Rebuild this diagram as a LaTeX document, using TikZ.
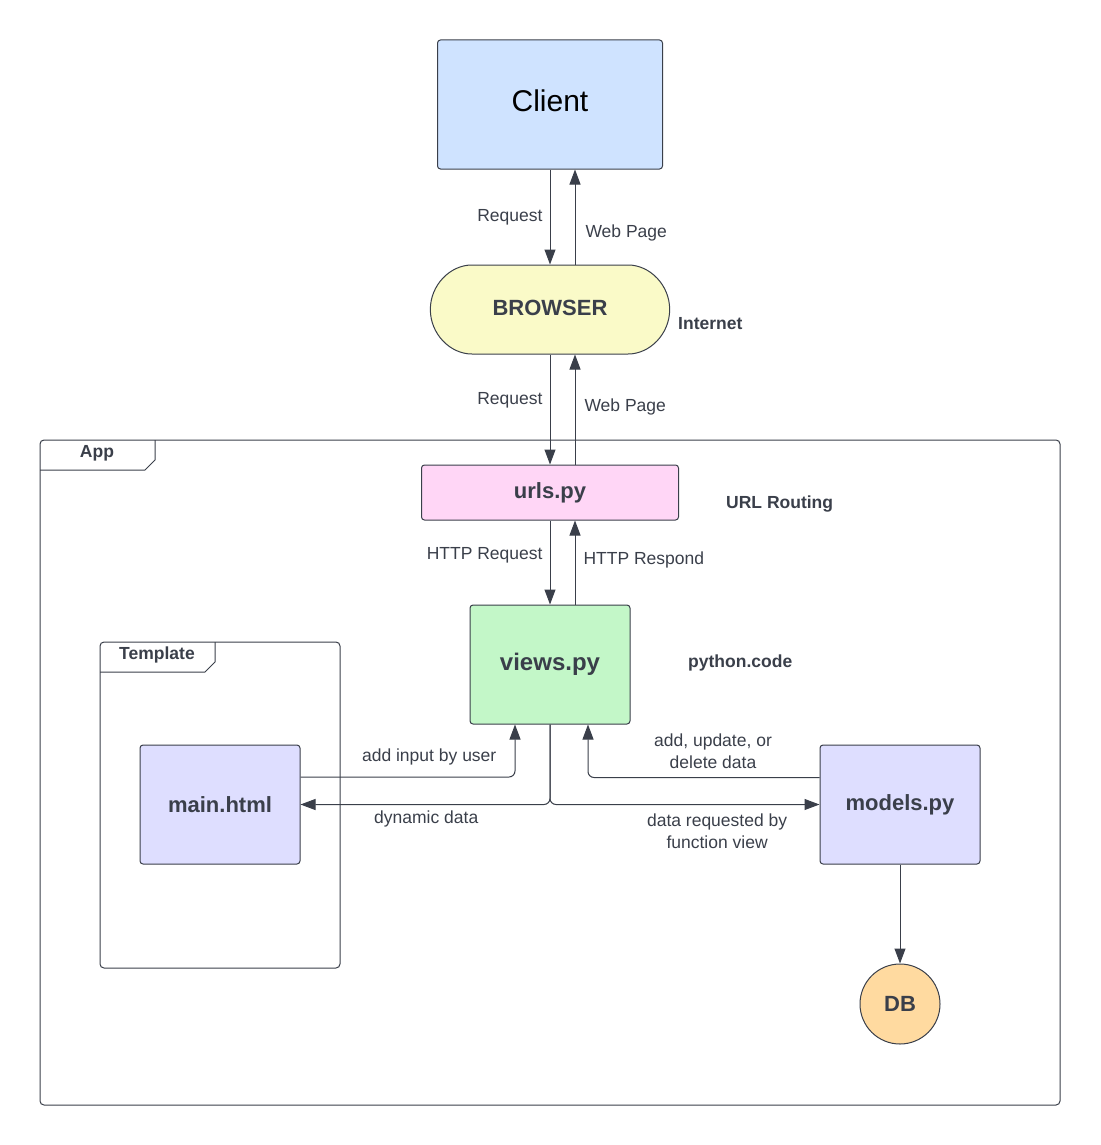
\documentclass[tikz,border=0pt]{standalone}
\usepackage{fontspec}
\setmainfont{Liberation Sans}
\usetikzlibrary{shapes.misc,arrows.meta,calc}

\definecolor{ink}{HTML}{3A3F4A}
\definecolor{clientfill}{HTML}{CFE3FF}
\definecolor{browserfill}{HTML}{FAFAC8}
\definecolor{urlsfill}{HTML}{FFD6F6}
\definecolor{viewsfill}{HTML}{C3F7C8}
\definecolor{modfill}{HTML}{DEDEFF}
\definecolor{dbfill}{HTML}{FFDAA0}

\begin{document}
\begin{tikzpicture}
  [
    x=1pt, y=-1pt,
    block/.style =
      {draw=ink, line width=1pt, rectangle, rounded corners=3pt, align=center,
       text=ink, font=\fontsize{22}{26}\selectfont\bfseries},
    lbl/.style =
      {text=ink, inner sep=0pt, align=center, font=\fontsize{17.5}{22}\selectfont},
    note/.style =
      {text=ink, inner sep=0pt, anchor=west, font=\fontsize{17.5}{22}\selectfont\bfseries},
    arr/.style =
      {draw=ink, line width=1pt, -{Stealth[length=15pt,width=11pt,inset=0pt]}},
    frame/.style =
      {draw=ink, line width=1pt}
  ]
\useasboundingbox (0,0) rectangle (1100,1145);

% frames
\draw[frame, rounded corners=4pt] (40,440) rectangle (1060,1105);
\draw[frame] (40,470) -- (145,470) -- (155,460) -- (155,440);
\node[lbl, font=\fontsize{17.5}{22}\selectfont\bfseries] (app) at (97,453) {App};

\draw[frame, rounded corners=4pt] (100,642) rectangle (340,968);
\draw[frame] (100,672) -- (205,672) -- (215,662) -- (215,642);
\node[lbl, font=\fontsize{17.5}{22}\selectfont\bfseries] (tmpl) at (157,655) {Template};

% blocks
\node[block, fill=clientfill, minimum width=225pt, minimum height=129pt, text depth=8pt,
      text=black, font=\fontsize{30}{34}\selectfont] (client) at (550,104.5) {Client};
\node[block, rounded rectangle, fill=browserfill, minimum width=246pt, text depth=4pt,
      minimum height=89pt] (browser) at (550,309.5) {BROWSER};
\node[block, fill=urlsfill, minimum width=257pt, minimum height=55pt] (urls) at (550,492.5) {urls.py};
\node[block, fill=viewsfill, minimum width=160pt, minimum height=119pt,
      font=\fontsize{24}{28}\selectfont\bfseries] (views) at (550,664.5) {views.py};
\node[block, fill=modfill, minimum width=160pt, minimum height=119pt] (main) at (220,804.5) {main.html};
\node[block, fill=modfill, minimum width=160pt, minimum height=119pt] (models) at (900,804.5) {models.py};
\node[block, circle, fill=dbfill, minimum size=80pt] (db) at (900,1004) {DB};

% side notes
\node[note] (internet) at (678,324) {Internet};
\node[note] (routing) at (726,504) {URL Routing};
\node[note] (pycode) at (688,663) {python.code};

% client <-> browser
\draw[arr] (client.south) -- (browser.north)
  node[lbl, pos=0.5, left=7pt] {Request};
\draw[arr] ([xshift=25pt]browser.north) -- ([xshift=25pt]client.south)
  node[lbl, pos=0.33, right=10pt] {Web Page};

% browser <-> urls
\draw[arr] (browser.south) -- (urls.north)
  node[lbl, pos=0.42, left=7pt] {Request};
\draw[arr] ([xshift=25pt]urls.north) -- ([xshift=25pt]browser.south)
  node[lbl, pos=0.52, right=9pt] {Web Page};

% urls <-> views
\draw[arr] (urls.south) -- (views.north)
  node[lbl, pos=0.42, left=7pt] {HTTP Request};
\draw[arr] ([xshift=25pt]views.north) -- ([xshift=25pt]urls.south)
  node[lbl, pos=0.53, right=8pt] {HTTP Respond};

% views <-> main, models
\draw[arr, rounded corners=6pt] ([yshift=27.5pt]main.east) -| ([xshift=-35pt]views.south)
  node[lbl, pos=0.3, above=11pt] {add input by user};
\draw[arr, rounded corners=6pt] (views.south) |- (main.east)
  node[lbl, pos=0.748, below=6pt] {dynamic data};
\draw[arr, rounded corners=6pt] (views.south) |- (models.west)
  node[lbl, pos=0.81, below=9pt] {data requested by\\function view};
\draw[arr, rounded corners=6pt] ([yshift=27pt]models.west) -| ([xshift=38pt]views.south)
  node[lbl, pos=0.23, above=8pt] {add, update, or\\delete data};

% models -> db
\draw[arr] (models) -- (db);
\end{tikzpicture}
\end{document}
